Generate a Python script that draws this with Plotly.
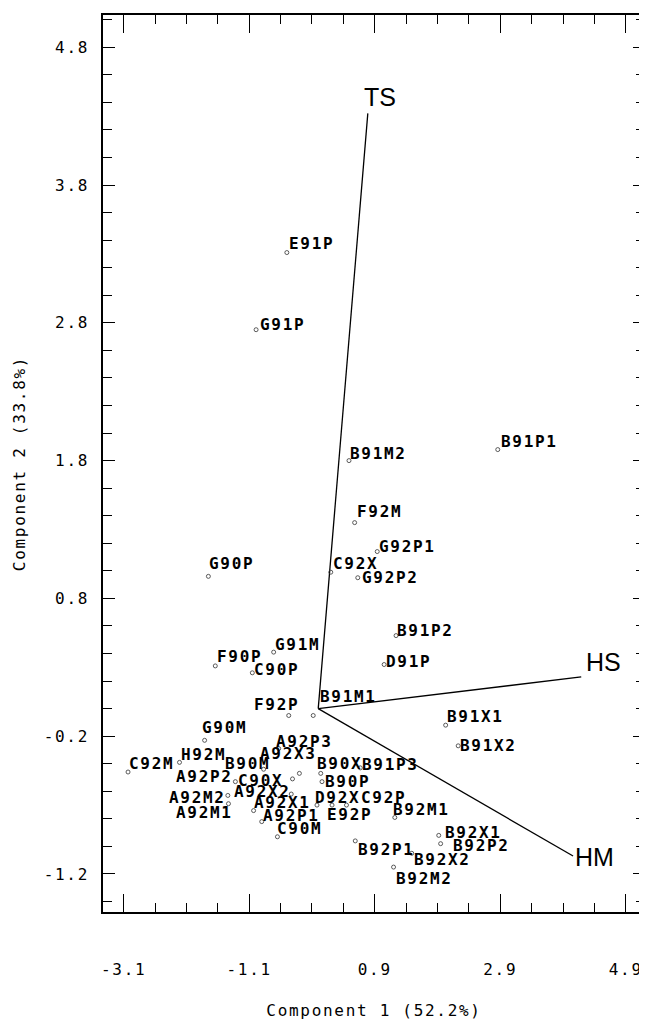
import plotly.graph_objects as go

# ---- data ----
names = ["E91P", "G91P", "B91M2", "B91P1", "F92M", "G92P1", "C92X", "G92P2", "G90P",
         "B91P2", "D91P", "G91M", "F90P", "C90P", "B91M1", "F92P", "G90M", "C92M",
         "H92M", "A92P2", "A92M2", "A92M1", "B90M", "A92P3", "A92X3", "C90X", "A92X2",
         "A92X1", "A92P1", "C90M", "B90X", "B90P", "B91P3", "D92X", "E92P", "C92P",
         "B92M1", "B91X1", "B91X2", "B92X1", "B92P2", "B92P1", "B92X2", "B92M2"]
pc1 = [-0.50, -0.99, 0.49, 2.86, 0.58, 0.94, 0.20, 0.63, -1.75,
       1.24, 1.05, -0.71, -1.64, -1.05, -0.08, -0.47, -1.81, -3.03,
       -2.21, -1.32, -1.44, -1.43, -0.87, -0.63, -0.30, -0.41, -0.43,
       -1.03, -0.90, -0.65, 0.04, 0.06, 0.67, -0.02, 0.22, 0.45,
       1.22, 2.03, 2.23, 1.92, 1.95, 0.59, 1.49, 1.20]
pc2 = [3.31, 2.75, 1.80, 1.88, 1.35, 1.14, 0.99, 0.95, 0.96,
       0.53, 0.32, 0.41, 0.31, 0.26, -0.05, -0.05, -0.23, -0.46,
       -0.39, -0.53, -0.63, -0.69, -0.44, -0.29, -0.47, -0.51, -0.62,
       -0.74, -0.82, -0.93, -0.47, -0.53, -0.43, -0.70, -0.70, -0.70,
       -0.79, -0.12, -0.27, -0.92, -0.98, -0.96, -1.05, -1.15]
# label placement offsets (pixels, text left / baseline relative to the point; +dy = down)
label_dx = [1, 3, 0, 2, 1, 1, 1, 3, 0,
            0, 1, 0, 1, 1, 6, -36, -4, 0,
            0, -60, -60, -53, -40, -4, -40, -56, -58,
            -1, 0, -1, -5, 2, 1, -3, -6, 14,
            -3, 0, 1, 5, 11, 2, 1, 1]
label_dy = [-3, 1, -1, -2, -5, 1, -3, 6, -7,
            1, 3, -2, -3, 3, -13, -5, -7, -3,
            -2, 1, 8, 15, 0, -1, -14, 8, 3,
            -2, 0, -2, -4, 6, 3, -2, 15, -2,
            -2, -3, 6, 3, 8, 15, 12, 17]

var_names = ["TS", "HS", "HM"]
var_x = [0.79, 4.19, 4.06]
var_y = [4.32, 0.23, -1.07]
var_label_dx = [12, 22, 21]
var_label_dy = [-16, -15, 1]

x_ticks = [-3.1, -1.1, 0.9, 2.9, 4.9]
x_tick_labels = ["-3.1", "-1.1", "0.9", "2.9", "4.9"]
y_ticks = [-1.2, -0.2, 0.8, 1.8, 2.8, 3.8, 4.8]
y_tick_labels = ["-1.2", "-0.2", "0.8", "1.8", "2.8", "3.8", "4.8"]
x_title = "Component 1 (52.2%)"
y_title = "Component 2 (33.8%)"

# ---- styling ----
MONO = "DejaVu Sans Mono"


def spaced(t, ls=2.0):
    return '<span style="letter-spacing:%.1fpx">%s</span>' % (ls, t)


fig = go.Figure()

for vn, vx, vy in zip(var_names, var_x, var_y):
    fig.add_trace(go.Scatter(x=[0, vx], y=[0, vy], mode="lines",
                             line=dict(color="black", width=1.3),
                             hoverinfo="skip", showlegend=False))

fig.add_trace(go.Scatter(x=pc1, y=pc2, mode="markers", text=names,
                         marker=dict(symbol="circle-open", size=4, color="#333",
                                     line=dict(width=0.8, color="#333")),
                         showlegend=False))

annotations = []
BASE = 5.5  # baseline sits this many px above the box bottom
for n, x, y, dx, dy in zip(names, pc1, pc2, label_dx, label_dy):
    annotations.append(dict(
        x=x, y=y, xref="x", yref="y", text=spaced(n, 1.7), showarrow=False,
        xanchor="left", yanchor="bottom", xshift=dx - 1, yshift=-(dy + BASE),
        font=dict(family=MONO, size=16, color="black", weight="bold")))

for vn, vx, vy, dx, dy in zip(var_names, var_x, var_y, var_label_dx, var_label_dy):
    annotations.append(dict(
        x=vx, y=vy, xref="x", yref="y", text=vn, showarrow=False,
        xanchor="center", yanchor="middle", xshift=dx, yshift=-dy,
        font=dict(family="Liberation Sans, Arial", size=25, color="black")))

axis_common = dict(showgrid=False, zeroline=False, showline=True, linecolor="black",
                   linewidth=1.5, mirror="allticks", ticks="inside", tickcolor="black",
                   tickwidth=1.2, tickmode="array",
                   tickfont=dict(family=MONO, size=16, color="black"))

# the page body has an 8px margin, so the figure is 8px smaller than the window
fig.update_layout(
    width=639, height=1012,
    margin=dict(l=95, r=0, t=7, b=108),
    paper_bgcolor="white", plot_bgcolor="white",
    showlegend=False,
    annotations=annotations,
    xaxis=dict(axis_common, range=[-3.429, 5.206],
               tickvals=x_ticks, ticktext=[spaced(t, 1.7) for t in x_tick_labels],
               ticklen=18, ticklabelstandoff=42,
               minor=dict(ticks="inside", ticklen=9, tick0=-3.1, dtick=0.5,
                          tickcolor="black", tickwidth=1),
               title=dict(text=spaced(x_title, 1.7), standoff=28,
                          font=dict(family=MONO, size=16, color="black"))),
    yaxis=dict(axis_common, range=[-1.476, 5.034],
               tickvals=y_ticks, ticktext=[spaced(t, 1.7) for t in y_tick_labels],
               ticklen=12, ticklabelstandoff=9,
               minor=dict(ticks="inside", ticklen=9, tick0=-1.2, dtick=0.2,
                          tickcolor="black", tickwidth=1),
               title=dict(text=spaced(y_title, 1.7), standoff=14,
                          font=dict(family=MONO, size=16, color="black"))),
)

fig.write_html("out.html")
